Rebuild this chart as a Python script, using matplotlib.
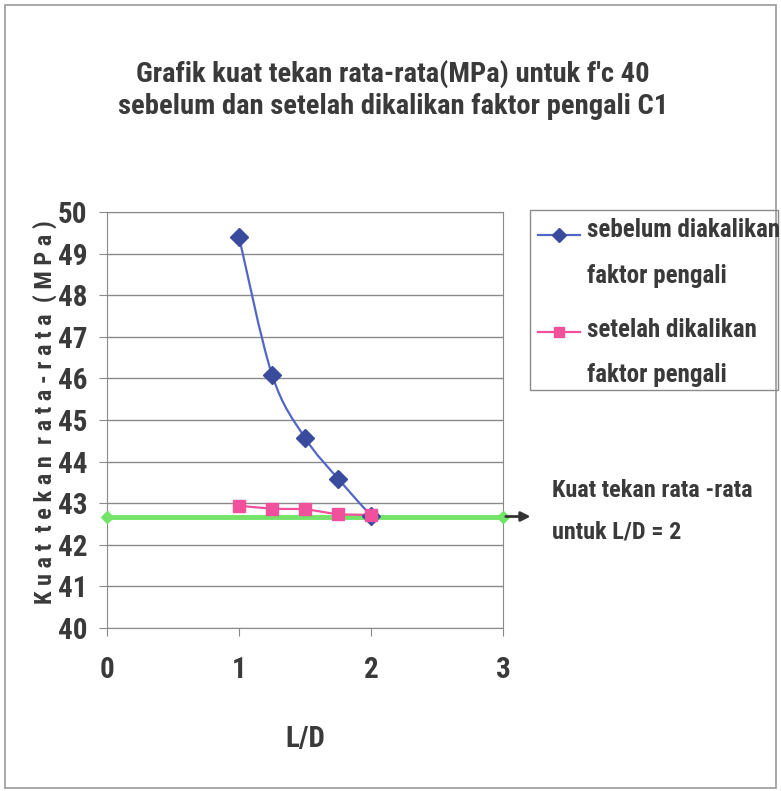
import matplotlib
matplotlib.use("Agg")
import matplotlib.pyplot as plt
import numpy as np
from matplotlib.path import Path
from matplotlib.patches import PathPatch, Rectangle
from matplotlib.lines import Line2D

plt.rcParams['font.family'] = ['Roboto Condensed', 'Asap Condensed', 'DejaVu Sans']
plt.rcParams['font.weight'] = 'bold'
plt.rcParams['axes.labelweight'] = 'bold'

ld = [1.0, 1.25, 1.5, 1.75, 2.0]
sebelum = [49.40, 46.09, 44.57, 43.59, 42.70]
setelah = [42.94, 42.87, 42.85, 42.74, 42.72]
ref_x = [0, 3]
ref_val = 42.68

series_names = [['sebelum diakalikan', 'faktor pengali'],
                ['setelah dikalikan', 'faktor pengali']]
ref_note = ['Kuat tekan rata -rata', 'untuk L/D = 2']

blue = '#5266c8'
blue_dark = '#3a4b9e'
pink = '#f0509c'
green = '#74e36a'
txt = '#3a3a3a'
frame = '#8a8a8a'

W, H = 781, 791


def fx(x):
    return x / W


def fy(y):
    return 1 - y / H


def smooth_path(xs, ys):
    # cubic bezier through the points, like a spreadsheet "smoothed line"
    p = np.column_stack([xs, ys])
    n = len(p)
    verts = [p[0]]
    codes = [Path.MOVETO]
    for i in range(n - 1):
        p0 = p[max(i - 1, 0)]
        p1 = p[i]
        p2 = p[i + 1]
        p3 = p[min(i + 2, n - 1)]
        c1 = p1 + (p2 - p0) / 6
        c2 = p2 - (p3 - p1) / 6
        verts += [c1, c2, p2]
        codes += [Path.CURVE4] * 3
    return Path(verts, codes)


fig = plt.figure(figsize=(W / 100, H / 100), dpi=100)
fig.patches.append(Rectangle((0.006, 0.004), 0.988, 0.99, transform=fig.transFigure,
                             fill=False, edgecolor='#9a9a9a', linewidth=1.2))

ax = fig.add_axes([fx(107), fy(628), fx(503) - fx(107), fy(212) - fy(628)])
ax.set_xlim(0, 3)
ax.set_ylim(40, 50)
ax.set_yticks(range(40, 51))
ax.set_xticks([0, 1, 2, 3])
ax.grid(axis='y', color=frame, linewidth=1.0)
ax.set_axisbelow(True)
for s in ax.spines.values():
    s.set_color(frame)
ax.tick_params(axis='both', colors=frame, labelcolor=txt, labelsize=21, length=6)
ax.tick_params(axis='x', pad=14)
ax.tick_params(axis='y', pad=8)

# reference line for L/D = 2
ax.plot(ref_x, [ref_val] * len(ref_x), color=green, linewidth=3.5, marker='D',
        markersize=6, zorder=3, clip_on=False)

ax.add_patch(PathPatch(smooth_path(ld, sebelum), facecolor='none', edgecolor=blue,
                       linewidth=1.6, zorder=4))
ax.plot(ld, sebelum, linestyle='none', marker='D', markersize=9, color=blue_dark, zorder=5)

ax.add_patch(PathPatch(smooth_path(ld, setelah), facecolor='none', edgecolor=pink,
                       linewidth=1.6, zorder=4))
ax.plot(ld, setelah, linestyle='none', marker='s', markersize=9, color=pink, zorder=5)

ax.set_xlabel('L/D', fontsize=21, color=txt, labelpad=30)
ax.set_ylabel('K u a t  t e k a n  r a t a - r a t a  ( M P a )', fontsize=17.5, color=txt)
ax.yaxis.set_label_coords(-0.127, 0.52)

fig.text(0.503, 0.906, "Grafik kuat tekan rata-rata(MPa) untuk f'c 40",
         ha='center', va='center', fontsize=20.5, color=txt)
fig.text(0.503, 0.865, "sebelum dan setelah dikalikan faktor pengali C1",
         ha='center', va='center', fontsize=20.5, color=txt)

# legend box, drawn by hand so the key sits on the first text line
fig.patches.append(Rectangle((fx(530), fy(390)), fx(778) - fx(530), fy(210) - fy(390),
                             transform=fig.transFigure, fill=False, edgecolor=frame,
                             linewidth=1.0))
keys = [(blue, blue_dark, 'D', 235, [237, 283]),
        (pink, pink, 's', 332, [337, 382])]
for (lc, mc, mk, ky, bases), lines in zip(keys, series_names):
    fig.add_artist(Line2D([fx(538), fx(580)], [fy(ky), fy(ky)], color=lc, linewidth=1.6,
                          transform=fig.transFigure))
    fig.add_artist(Line2D([fx(559)], [fy(ky)], marker=mk, markersize=7, color=mc,
                          linestyle='none', transform=fig.transFigure))
    for line, b in zip(lines, bases):
        fig.text(fx(587), fy(b), line, ha='left', va='baseline', fontsize=18, color=txt)

ax.annotate('', xy=(3.23, ref_val), xytext=(3.0, ref_val), xycoords='data',
            annotation_clip=False,
            arrowprops=dict(arrowstyle='-|>', color='#333333', linewidth=2, mutation_scale=14))
for line, b in zip(ref_note, [497, 538]):
    fig.text(fx(552), fy(b), line, ha='left', va='baseline', fontsize=17.5, color=txt)

fig.savefig('out.png', dpi=100, facecolor='white')
